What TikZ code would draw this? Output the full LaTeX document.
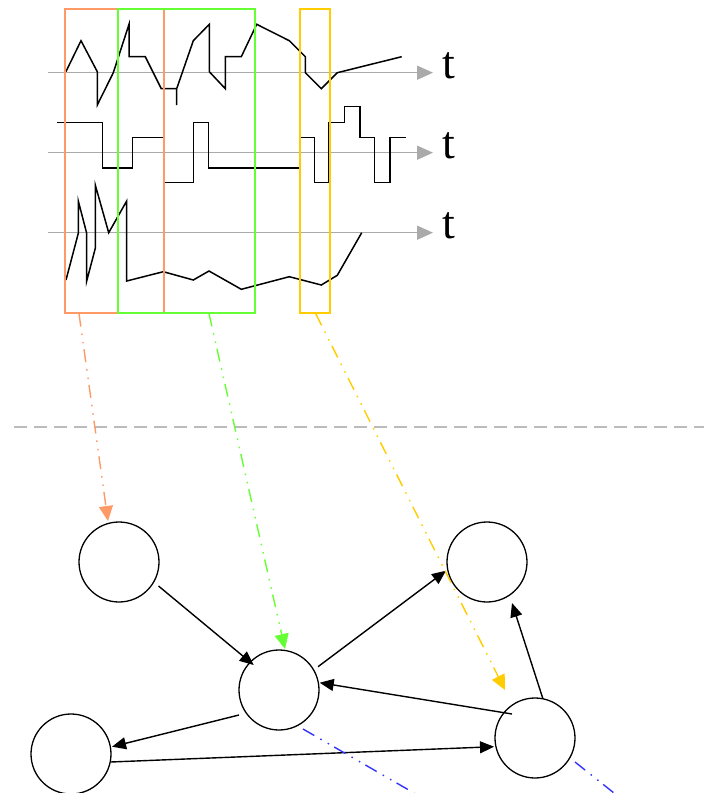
\documentclass[tikz,border=0pt]{standalone}
\usepackage{fontspec}
\setmainfont{Liberation Serif}
\usetikzlibrary{arrows.meta}
\definecolor{winorange}{HTML}{FF9966}
\definecolor{wingreen}{HTML}{66FF33}
\definecolor{winyellow}{HTML}{FFCC00}
\definecolor{projblue}{HTML}{3333FF}
\definecolor{axisgray}{HTML}{AAAAAA}
\definecolor{sepgray}{HTML}{BBBBBB}
\begin{document}
\begin{tikzpicture}[x=1pt,y=-1pt,
  signal/.style={line width=1.5pt,line join=miter},
  axisline/.style={axisgray,line width=1.5pt,-{Triangle[length=16pt,width=14pt]}},
  axislabel/.style={font=\fontsize{46}{46}\selectfont,anchor=base west,inner sep=0pt},
  window/.style={draw,line width=1.3pt,inner sep=0pt,minimum height=304pt},
  state/.style={circle,draw,line width=1.3pt,inner sep=0pt,minimum size=80pt},
  edge/.style={line width=1.4pt,-{Triangle[length=14pt,width=12pt]}},
  dashdotdot/.style={line width=1.4pt,dash pattern=on 13pt off 7pt on 1.5pt off 7pt on 1.5pt off 6pt},
  mapping/.style={dashdotdot,-{Triangle[length=15pt,width=14pt]}}]
\useasboundingbox (0,0) rectangle (704,793);

% time axes
\coordinate (ax1s) at (48,72.7);  \coordinate (ax1e) at (433,72.7);
\coordinate (ax2s) at (48,152.7); \coordinate (ax2e) at (433,152.7);
\coordinate (ax3s) at (48,232.7); \coordinate (ax3e) at (433,232.7);
\draw[axisline] (ax1s) -- (ax1e);
\draw[axisline] (ax2s) -- (ax2e);
\draw[axisline] (ax3s) -- (ax3e);
\node[axislabel] (t1) at (442,78.5) {t};
\node[axislabel] (t2) at (442,158.5) {t};
\node[axislabel] (t3) at (442,238.5) {t};

% signal 1
\draw[signal] (65.9,71.7) -- (81,40.7) -- (97.3,71.7) -- (97.3,105) -- (113.3,72.7)
  -- (129,24.3) -- (129,56.7) -- (145.3,56.7) -- (161.3,88.7) -- (176.7,88.7)
  -- (176.7,105) -- (176.7,88.7) -- (193.3,40.7) -- (209.3,24.3) -- (209.3,71.7)
  -- (225.3,88.7) -- (225.3,56.7) -- (241.3,56.7) -- (256.7,24.3) -- (289.3,40.7)
  -- (305.3,56.7) -- (305.3,72.7) -- (321.3,88.7) -- (337.3,72.7) -- (401.7,56.7);

% signal 2
\draw[signal] (56.7,122.7) -- (102.7,122.7) -- (102.7,168) -- (132.7,168)
  -- (132.7,137.3) -- (163.3,137.3) -- (163.3,182.7) -- (193.3,182.7)
  -- (193.3,122.7) -- (208.3,122.7) -- (208.3,168) -- (299.3,168)
  -- (299.3,137.3) -- (314.3,137.3) -- (314.3,182.7) -- (328.7,182.7)
  -- (328.7,122.7) -- (344.3,122.7) -- (344.3,106.7) -- (360,106.7)
  -- (360,137.3) -- (374.3,137.3) -- (374.3,182.7) -- (390,182.7)
  -- (390,137.3) -- (405.7,137.3);

% signal 3
\draw[signal] (66,280) -- (78.3,233.3) -- (78.3,201) -- (86.7,233.3) -- (86.7,281)
  -- (95.3,248.3) -- (95.3,185) -- (108.7,232.7) -- (126.7,201) -- (126.7,281)
  -- (163.3,271.7) -- (193.3,280) -- (209,271) -- (241.3,289.3) -- (289.3,276.7)
  -- (321.3,285) -- (337.3,275.3) -- (361.7,232.7);

% time windows
\node[window,winorange,minimum width=99pt]  (wo) at (114.5,161) {};
\node[window,wingreen,minimum width=137pt]  (wg) at (186.5,161) {};
\node[window,winyellow,minimum width=30pt]  (wy) at (315,161) {};

% separator
\coordinate (sepl) at (14,427);
\coordinate (sepr) at (704,427);
\draw[sepgray,line width=1.5pt,dash pattern=on 13pt off 7pt] (sepl) -- (sepr);

% state graph
\node[state] (A) at (119,562) {};
\node[state] (B) at (279,690) {};
\node[state] (C) at (487,562) {};
\node[state] (D) at (71,754) {};
\node[state] (E) at (535,738) {};

\draw[edge] ([shift={(39.5,24)}]A.center) -- ([shift={(-25.3,-25)}]B.center);
\draw[edge] ([shift={(39,-23.3)}]B.center) -- ([shift={(-41,8.7)}]C.center);
\draw[edge] ([shift={(-23,-24)}]E.center) -- ([shift={(40.7,-7.3)}]B.center);
\draw[edge] ([shift={(8,-39)}]E.center) -- ([shift={(25,41)}]C.center);
\draw[edge] ([shift={(-40,25)}]B.center) -- ([shift={(41,-7.3)}]D.center);
\draw[edge] ([shift={(39.5,8)}]D.center) -- ([shift={(-41,8.7)}]E.center);

% window-to-state mappings
\draw[mapping,winorange] ([shift={(-35.5,0)}]wo.south) -- ([shift={(-11,-41)}]A.center);
\draw[mapping,wingreen]  ([shift={(22.5,0)}]wg.south) -- ([shift={(6,-41)}]B.center);
\draw[mapping,winyellow] ([shift={(0.7,0)}]wy.south) -- ([shift={(-30,-48)}]E.center);

% outgoing projections
\coordinate (p1) at (414,793);
\coordinate (p2) at (614,793);
\draw[dashdotdot,projblue] ([shift={(24,39)}]B.center) -- (p1);
\draw[dashdotdot,projblue] ([shift={(40,24)}]E.center) -- (p2);
\end{tikzpicture}
\end{document}
